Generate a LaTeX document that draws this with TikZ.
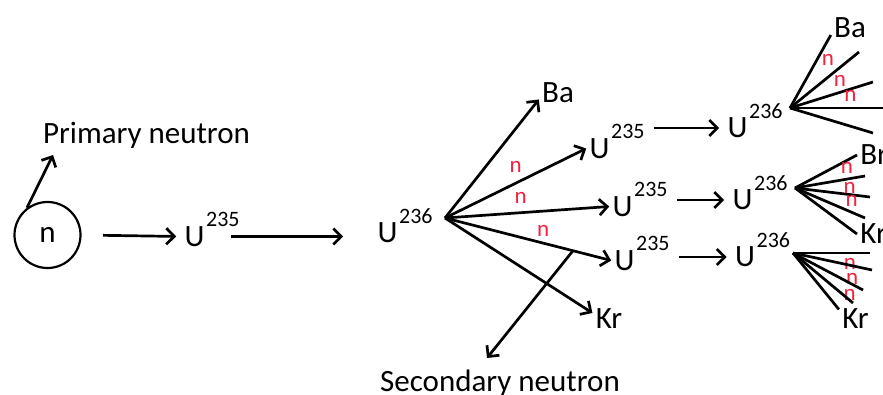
\documentclass[tikz,border=0pt]{standalone}
\usepackage{fontspec}
\setmainfont{Carlito}
\usetikzlibrary{arrows.meta}
\definecolor{tag-red}{HTML}{F5213F}

\begin{document}
\begin{tikzpicture}[x=1pt, y=-1pt, line width=2.7pt,
    every node/.style={font=\fontsize{31}{37}\selectfont, inner sep=2pt},
    sup/.style={font=\fontsize{22}{26}\selectfont, inner sep=0pt, anchor=south west,
      xshift=-3pt, yshift=-5pt},
    tag/.style={font=\fontsize{23}{27}\selectfont, text=tag-red, inner sep=1pt},
    arr/.style={-{Straight Barb[length=8pt, width=16pt]}},
    feed/.style={arr, shorten <=8pt, shorten >=5pt}]
    \useasboundingbox (0,0) rectangle (883,394);
    % primary neutron
    \node[draw, circle, minimum size=66pt, line width=2.2pt] (nc) at (47.5,235) {n};
    \node[anchor=base] (pn) at (146.5,143) {Primary neutron};
    \coordinate (pnt) at (53,155);
    \draw[arr] (nc.127) -- (pnt);
    \node (ua) at (194.5,236.5) {U};
    \node[sup] (sa) at (ua.north east) {235};
    \draw[arr, shorten <=21.5pt, shorten >=5pt] (nc.east) -- (ua.west);
    \node (ub) at (387.5,233) {U};
    \node[sup] (sb) at (ub.north east) {236};
    \draw[arr, shorten <=-10pt, shorten >=31pt] (ua.east -| sa.east) -- (ua.east -| ub.west);
    % first fission
    \coordinate (hb) at (445,218);
    \node (ba) at (558,92.5) {Ba};
    \node (kr) at (609,319) {Kr};
    \node (uc1) at (599.5,148.5) {U};
    \node[sup] (sc1) at (uc1.north east) {235};
    \node (uc2) at (622.5,206.5) {U};
    \node[sup] (sc2) at (uc2.north east) {235};
    \node (uc3) at (624.5,260.5) {U};
    \node[sup] (sc3) at (uc3.north east) {235};
    \draw[arr] (hb) -- (ba.200);
    \draw[arr] (hb) -- node[tag, pos=0.50, above=8pt] {n} (uc1.west);
    \draw[arr] (hb) -- node[tag, pos=0.46, above=7pt] {n} (uc2.west);
    \draw[arr] (hb) -- node[tag, pos=0.59, above=4pt] {n} (uc3.west);
    \draw[arr] (hb) -- (kr.160);
    \path (hb) -- (uc3.west) coordinate[pos=0.77] (sn0);
    \node[anchor=base] (sn) at (500,391) {Secondary neutron};
    \coordinate (snt) at (487,358);
    \draw[arr] (sn0) -- (snt);
    % second generation
    \node (ud1) at (737.5,128) {U};
    \node[sup] (sd1) at (ud1.north east) {236};
    \node (ud2) at (742.5,200) {U};
    \node[sup] (sd2) at (ud2.north east) {236};
    \node (ud3) at (745,257) {U};
    \node[sup] (sd3) at (ud3.north east) {236};
    \draw[feed] (sc1.east |- ud1.west) -- (ud1.west);
    \draw[feed] (sc2.east |- ud2.west) -- (ud2.west);
    \draw[feed] (sc3.east |- ud3.west) -- (ud3.west);
    % top fan
    \coordinate (hd1) at (790,108);
    \node (ba2) at (850,28) {Ba};
    \coordinate (e11) at (859,52);
    \coordinate (e12) at (873,82);
    \coordinate (e13) at (883,108);
    \coordinate (e14) at (873,133);
    \draw (hd1) -- (ba2.200);
    \draw (hd1) -- node[tag, pos=0.55, above=9pt] {n} (e11);
    \draw (hd1) -- node[tag, pos=0.60, above=4pt] {n} (e12);
    \draw (hd1) -- node[tag, pos=0.65, above=4pt] {n} (e13);
    \draw (hd1) -- (e14);
    % middle fan
    \coordinate (hd2) at (795,188);
    \node[anchor=west] (br) at (857,155) {Br};
    \node[anchor=west] (kr2) at (857,234) {Kr};
    \coordinate (e21) at (865,176);
    \coordinate (e22) at (870,197);
    \coordinate (e23) at (865,218);
    \draw (hd2) -- (br.west);
    \draw (hd2) -- node[tag, pos=0.74, above=3pt] {n} (e21);
    \draw (hd2) -- node[tag, pos=0.73, above=-1pt] {n} (e22);
    \draw (hd2) -- node[tag, pos=0.81, above=3pt] {n} (e23);
    \draw (hd2) -- (kr2.west);
    % bottom fan
    \coordinate (hd3) at (793,253);
    \node (kr3) at (855.5,319) {Kr};
    \coordinate (e31) at (870,253);
    \coordinate (e32) at (872,270);
    \coordinate (e33) at (863,290);
    \coordinate (e34) at (853,303);
    \draw (hd3) -- node[tag, pos=0.74, below=3pt] {n} (e31);
    \draw (hd3) -- node[tag, pos=0.75, below=5pt] {n} (e32);
    \draw (hd3) -- node[tag, pos=0.81, below=4pt] {n} (e33);
    \draw (hd3) -- (e34);
    \draw (hd3) -- (kr3.150);
\end{tikzpicture}
\end{document}
